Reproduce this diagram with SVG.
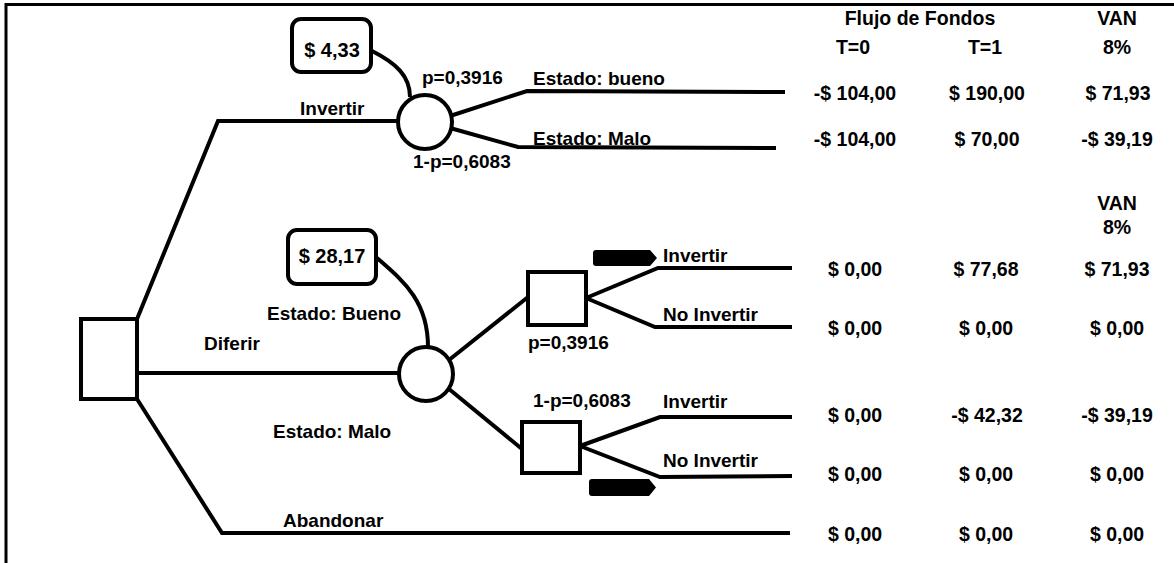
<svg xmlns="http://www.w3.org/2000/svg" width="1174" height="563" viewBox="0 0 1174 563">
<style>
.ln{fill:none;stroke:#000;stroke-width:4}
.nd{fill:#fff;stroke:#000;stroke-width:4}
.t{font-family:"Liberation Sans",Arial,sans-serif;font-weight:bold;font-size:19px;fill:#000}
.b{font-family:"Liberation Sans",Arial,sans-serif;font-weight:bold;font-size:20px;fill:#000;text-anchor:middle}
.v{font-family:"Liberation Sans",Arial,sans-serif;font-weight:bold;font-size:19.5px;fill:#000;text-anchor:middle}
.flag{fill:#000}
</style>
<rect width="1174" height="563" fill="#fff"/>
<g id="frame">
<polyline class="ln" style="stroke-width:3" points="6,563 6,4.5 1174,4.5"/>
</g>
<g id="connectors">
<polyline class="ln" points="137,319 218,121 399,121"/>
<line class="ln" x1="137" y1="373" x2="400" y2="373"/>
<polyline class="ln" points="137,399 222,533 790,533"/>
<polyline class="ln" points="450,116 527,91 785,92"/>
<polyline class="ln" points="450,128 518,147 776,148"/>
<path class="ln" d="M372,51 C396,63 410,76 410,97"/>
<path class="ln" d="M377,258 C402,280 428,300 428,347"/>
<line class="ln" x1="449" y1="360" x2="528" y2="297"/>
<line class="ln" x1="449" y1="389" x2="522" y2="449"/>
<polyline class="ln" points="586,298 658,268 792,268"/>
<polyline class="ln" points="586,298 655,327 792,327"/>
<polyline class="ln" points="580,446 660,417 792,417"/>
<polyline class="ln" points="580,446 660,477 792,476"/>
</g>
<g id="root"><rect class="nd" x="81" y="319" width="56" height="80"/></g>
<g id="chance1"><circle class="nd" cx="425" cy="122" r="27"/></g>
<g id="chance2"><circle class="nd" cx="426" cy="374" r="27"/></g>
<g id="decision1"><rect class="nd" x="528" y="272" width="58" height="53"/></g>
<g id="decision2"><rect class="nd" x="522" y="422" width="58" height="51"/></g>
<g id="value1"><rect class="nd" x="292" y="19" width="79" height="53" rx="9"/><text class="b" x="332" y="57">$ 4,33</text></g>
<g id="value2"><rect class="nd" x="288" y="230" width="88" height="54" rx="9"/><text class="b" x="332" y="263">$ 28,17</text></g>
<g id="flag1"><path class="flag" d="M596,250 H650 L657,258 L650,266 H596 Q593,266 593,263 V253 Q593,250 596,250 Z"/></g>
<g id="flag2"><path class="flag" d="M592,479 H649 L656,487.5 L649,496 H592 Q589,496 589,493 V482 Q589,479 592,479 Z"/></g>
<g id="labels">
<text class="t" x="300" y="115">Invertir</text>
<text class="t" x="422" y="84">p=0,3916</text>
<text class="t" x="533" y="85">Estado: bueno</text>
<text class="t" x="533" y="145">Estado: Malo</text>
<text class="t" x="413" y="168">1-p=0,6083</text>
<text class="t" x="267" y="320">Estado: Bueno</text>
<text class="t" x="204" y="350">Diferir</text>
<text class="t" x="273" y="438">Estado: Malo</text>
<text class="t" x="283" y="527">Abandonar</text>
<text class="t" x="528" y="349">p=0,3916</text>
<text class="t" x="663" y="262">Invertir</text>
<text class="t" x="663" y="321">No Invertir</text>
<text class="t" x="533" y="407">1-p=0,6083</text>
<text class="t" x="663" y="408">Invertir</text>
<text class="t" x="663" y="467">No Invertir</text>
</g>
<g id="table">
<text class="v" x="920" y="25">Flujo de Fondos</text>
<text class="v" x="1117" y="25">VAN</text>
<text class="v" x="853" y="54">T=0</text>
<text class="v" x="985" y="54">T=1</text>
<text class="v" x="1117" y="54">8%</text>
<text class="v" x="855" y="100">-$ 104,00</text>
<text class="v" x="987" y="100">$ 190,00</text>
<text class="v" x="1118" y="100">$ 71,93</text>
<text class="v" x="855" y="146">-$ 104,00</text>
<text class="v" x="987" y="146">$ 70,00</text>
<text class="v" x="1117" y="146">-$ 39,19</text>
<text class="v" x="1117" y="210">VAN</text>
<text class="v" x="1117" y="234">8%</text>
<text class="v" x="855" y="276">$ 0,00</text>
<text class="v" x="986" y="276">$ 77,68</text>
<text class="v" x="1117" y="276">$ 71,93</text>
<text class="v" x="855" y="335">$ 0,00</text>
<text class="v" x="986" y="335">$ 0,00</text>
<text class="v" x="1117" y="335">$ 0,00</text>
<text class="v" x="855" y="422">$ 0,00</text>
<text class="v" x="987" y="422">-$ 42,32</text>
<text class="v" x="1117" y="422">-$ 39,19</text>
<text class="v" x="855" y="481">$ 0,00</text>
<text class="v" x="986" y="481">$ 0,00</text>
<text class="v" x="1117" y="481">$ 0,00</text>
<text class="v" x="855" y="541">$ 0,00</text>
<text class="v" x="986" y="541">$ 0,00</text>
<text class="v" x="1117" y="541">$ 0,00</text>
</g>
</svg>
